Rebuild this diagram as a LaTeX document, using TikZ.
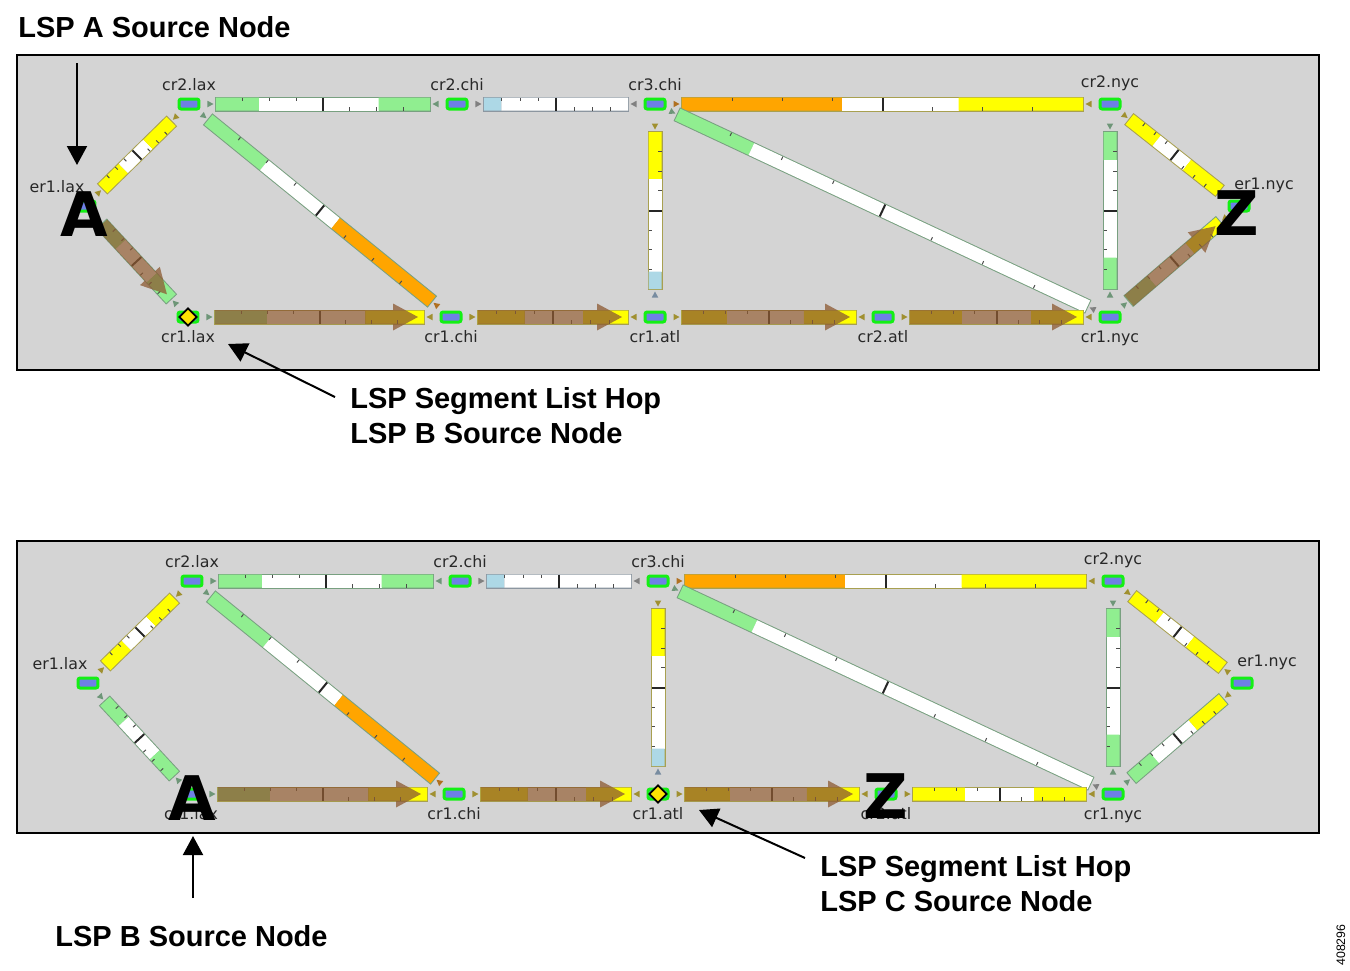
\documentclass[tikz,border=0pt]{standalone}
\usepackage{fontspec}
\setmainfont{Liberation Sans}
\newfontfamily\lblfont{DejaVu Sans}
\usetikzlibrary{calc,arrows.meta,shapes.geometric}

\definecolor{panelgray}{RGB}{212,212,212}
\definecolor{rtblue}{RGB}{110,128,230}
\definecolor{rtgreen}{RGB}{20,240,20}
\definecolor{lgreen}{RGB}{144,238,144}
\definecolor{lblue}{RGB}{173,216,230}
\definecolor{lorange}{RGB}{255,165,0}
\definecolor{lyellow}{RGB}{255,255,0}
\definecolor{olg}{RGB}{120,160,128}
\definecolor{oly}{RGB}{168,160,80}
\definecolor{olw}{RGB}{140,150,160}
\definecolor{tg}{RGB}{110,150,120}
\definecolor{ty}{RGB}{160,144,48}
\definecolor{to}{RGB}{176,112,32}
\definecolor{tb}{RGB}{120,140,160}
\definecolor{tw}{RGB}{128,128,128}
\definecolor{lspbrown}{RGB}{140,90,50}
\definecolor{lbltext}{RGB}{40,40,40}

\tikzset{
  router/.style={draw=rtgreen, fill=rtblue, line width=0.06cm, rounded corners=1.2pt,
    minimum width=0.4cm, minimum height=0.2cm, inner sep=0pt},
  rlabel/.style={font=\lblfont\fontsize{9}{10}\selectfont, text=lbltext, inner sep=1pt},
  hop/.style={diamond, draw=black, fill=yellow!85!orange, line width=0.035cm,
    inner sep=0pt, minimum size=0.36cm},
  bigletter/.style={font=\lblfont\bfseries\fontsize{35}{35}\selectfont, inner sep=0pt},
  annot/.style={font=\bfseries\fontsize{16.5}{20}\selectfont, align=left, inner sep=0pt},
  callout/.style={line width=0.04cm, -{Triangle[length=0.38cm,width=0.4cm]}},
  panel/.style={fill=panelgray, draw=black, line width=0.045cm},
}

% link bar: [gap] from, to, outline, tip colour at from, tip colour at to, segments
\newcommand\lnk[7][0.54cm]{%
  \pgfmathsetlengthmacro\tipa{#1-0.05cm}
  \pgfmathsetlengthmacro\tipb{#1-0.17cm}
  \coordinate (s) at ($(#2)!#1!(#3)$);
  \coordinate (e) at ($(#3)!#1!(#2)$);
  \draw[#4, line width=0.3cm, shorten <=-0.02cm, shorten >=-0.02cm] (s) -- (e);
  \foreach \sa/\sb/\sc in {#7}
    \draw[\sc, line width=0.26cm] ($(s)!\sa!(e)$) -- ($(s)!\sb!(e)$);
  \foreach \k in {0.125,0.25,0.375}
    \draw[black!70, line width=0.02cm] ($(s)!\k!(e)!0.13cm!90:(e)$) -- ($(s)!\k!(e)!0.06cm!90:(e)$);
  \foreach \k in {0.625,0.75,0.875}
    \draw[black!70, line width=0.02cm] ($(s)!\k!(e)!0.13cm!-90:(e)$) -- ($(s)!\k!(e)!0.06cm!-90:(e)$);
  \draw[black!85, line width=0.04cm] ($(s)!0.5!(e)!0.13cm!90:(e)$) -- ($(s)!0.5!(e)!0.13cm!-90:(e)$);
  \fill[#5] ($(#2)!\tipa!(#3)$) -- ($(#2)!\tipb!(#3)!0.065cm!90:(#3)$) -- ($(#2)!\tipb!(#3)!0.065cm!-90:(#3)$) -- cycle;
  \fill[#6] ($(#3)!\tipa!(#2)$) -- ($(#3)!\tipb!(#2)!0.065cm!90:(#2)$) -- ($(#3)!\tipb!(#2)!0.065cm!-90:(#2)$) -- cycle;
}

% LSP path arrow over a link
\newcommand\lsp[3][0.54cm]{%
  \pgfmathsetlengthmacro\lsptip{#1+0.12cm}
  \coordinate (ls) at ($(#2)!#1!(#3)$);
  \coordinate (lt) at ($(#3)!\lsptip!(#2)$);
  \fill[lspbrown, opacity=0.75] ($(ls)!0.14cm!90:(lt)$)
    -- ($(lt)!0.5cm!(ls)!0.14cm!-90:(ls)$) -- ($(lt)!0.5cm!(ls)!0.27cm!-90:(ls)$)
    -- (lt)
    -- ($(lt)!0.5cm!(ls)!0.27cm!90:(ls)$) -- ($(lt)!0.5cm!(ls)!0.14cm!90:(ls)$)
    -- ($(ls)!0.14cm!-90:(lt)$) -- cycle;
}

% network: prefix, dx, dy
\newcommand\drawnet[3]{%
  \node[router, label={[rlabel]above:cr2.lax}] (#1cr2lax) at ({189+#2},{104+#3}) {};
  \node[router, label={[rlabel]above:cr2.chi}] (#1cr2chi) at ({457+#2},{104+#3}) {};
  \node[router, label={[rlabel]above:cr3.chi}] (#1cr3chi) at ({655+#2},{104+#3}) {};
  \node[router, label={[rlabel]above:cr2.nyc}] (#1cr2nyc) at ({1110+#2},{104+#3}) {};
  \node[router, label={[rlabel,xshift=-0.56cm]above:er1.lax}] (#1er1lax) at ({85+#2},{206+#3}) {};
  \node[router, label={[rlabel,xshift=0.5cm]above:er1.nyc}] (#1er1nyc) at ({1239+#2},{206+#3}) {};
  \node[router, label={[rlabel]below:cr1.lax}] (#1cr1lax) at ({188+#2},{317+#3}) {};
  \node[router, label={[rlabel]below:cr1.chi}] (#1cr1chi) at ({451+#2},{317+#3}) {};
  \node[router, label={[rlabel]below:cr1.atl}] (#1cr1atl) at ({655+#2},{317+#3}) {};
  \node[router, label={[rlabel]below:cr2.atl}] (#1cr2atl) at ({883+#2},{317+#3}) {};
  \node[router, label={[rlabel]below:cr1.nyc}] (#1cr1nyc) at ({1110+#2},{317+#3}) {};
  \lnk{#1cr2lax}{#1cr2chi}{olg}{tg}{tg}{0/.2/lgreen,.2/.76/white,.76/1/lgreen}
  \lnk{#1cr2chi}{#1cr3chi}{olw}{tw}{tw}{0/.12/lblue,.12/1/white}
  \lnk{#1cr3chi}{#1cr2nyc}{oly}{to}{ty}{0/.4/lorange,.4/.69/white,.69/1/lyellow}
  \lnk[0.5cm]{#1cr2lax}{#1cr1chi}{olg}{tg}{to}{0/.25/lgreen,.25/.57/white,.57/1/lorange}
  \lnk[0.5cm]{#1cr3chi}{#1cr1nyc}{olg}{tg}{tw}{0/.18/lgreen,.18/1/white}
  \lnk[0.56cm]{#1cr3chi}{#1cr1atl}{oly}{ty}{tb}{0/.3/lyellow,.3/.89/white,.89/1/lblue}
  \lnk[0.56cm]{#1cr2nyc}{#1cr1nyc}{olg}{tg}{tg}{0/.18/lgreen,.18/.8/white,.8/1/lgreen}
  \lnk[0.5cm]{#1er1lax}{#1cr2lax}{oly}{ty}{ty}{0/.3/lyellow,.3/.66/white,.66/1/lyellow}
  \lnk[0.5cm]{#1er1lax}{#1cr1lax}{olg}{tg}{tg}{0/.27/lgreen,.27/.72/white,.72/1/lgreen}
  \lnk[0.5cm]{#1cr2nyc}{#1er1nyc}{oly}{ty}{ty}{0/.3/lyellow,.3/.64/white,.64/1/lyellow}
  \lnk[0.5cm]{#1cr1nyc}{#1er1nyc}{olg}{tg}{ty}{0/.25/lgreen,.25/.67/white,.67/1/lyellow}
  \lnk{#1cr1lax}{#1cr1chi}{oly}{tg}{ty}{0/.25/lgreen,.25/.72/white,.72/1/lyellow}
  \lnk{#1cr1chi}{#1cr1atl}{oly}{ty}{ty}{0/.31/lyellow,.31/.7/white,.7/1/lyellow}
  \lnk{#1cr1atl}{#1cr2atl}{oly}{ty}{ty}{0/.26/lyellow,.26/.7/white,.7/1/lyellow}
  \lnk{#1cr2atl}{#1cr1nyc}{oly}{ty}{ty}{0/.3/lyellow,.3/.7/white,.7/1/lyellow}
}

\begin{document}
\begin{tikzpicture}[x=0.02cm, y=-0.02cm, label distance=0.1cm]
  \useasboundingbox (0,0) rectangle (1350,971);

  % upper panel
  \draw[panel] (17,55) rectangle (1319,370);
  \drawnet{t}{0}{0}
  \lsp[0.5cm]{ter1lax}{tcr1lax}
  \lsp{tcr1lax}{tcr1chi}
  \lsp{tcr1chi}{tcr1atl}
  \lsp{tcr1atl}{tcr2atl}
  \lsp{tcr2atl}{tcr1nyc}
  \lsp[0.5cm]{tcr1nyc}{ter1nyc}
  \node[hop] (thop) at (tcr1lax) {};
  \node[bigletter] (tletA) at (84,214) {A};
  \node[bigletter] (tletZ) at (1237,213) {Z};

  % lower panel
  \draw[panel] (17,541) rectangle (1319,833);
  \drawnet{b}{3}{477}
  \lsp{bcr1lax}{bcr1chi}
  \lsp{bcr1chi}{bcr1atl}
  \lsp{bcr1atl}{bcr2atl}
  \node[hop] (bhop) at (bcr1atl) {};
  \node[bigletter] (bletA) at (192,798) {A};
  \node[bigletter] (bletZ) at (886,796) {Z};

  % callouts
  \node[annot, anchor=west] (srcA) at (18,27) {LSP A Source Node};
  \node[annot, anchor=west] (hopB) at (350,416) {LSP Segment List Hop\\LSP B Source Node};
  \node[annot, anchor=west] (srcB) at (55,936) {LSP B Source Node};
  \node[annot, anchor=west] (hopC) at (820,884) {LSP Segment List Hop\\LSP C Source Node};
  \coordinate (cA1) at (77,63);   \coordinate (cA2) at (77,165);
  \coordinate (cB1) at (335,397); \coordinate (cB2) at (228,344);
  \coordinate (cC1) at (193,898); \coordinate (cC2) at (193,836);
  \coordinate (cD1) at (805,858); \coordinate (cD2) at (699,810);
  \draw[callout] (cA1) -- (cA2);
  \draw[callout] (cB1) -- (cB2);
  \draw[callout] (cC1) -- (cC2);
  \draw[callout] (cD1) -- (cD2);

  \node[font=\fontsize{7}{8}\selectfont, rotate=90, inner sep=0pt] (figno) at (1341,945) {408296};
\end{tikzpicture}
\end{document}
